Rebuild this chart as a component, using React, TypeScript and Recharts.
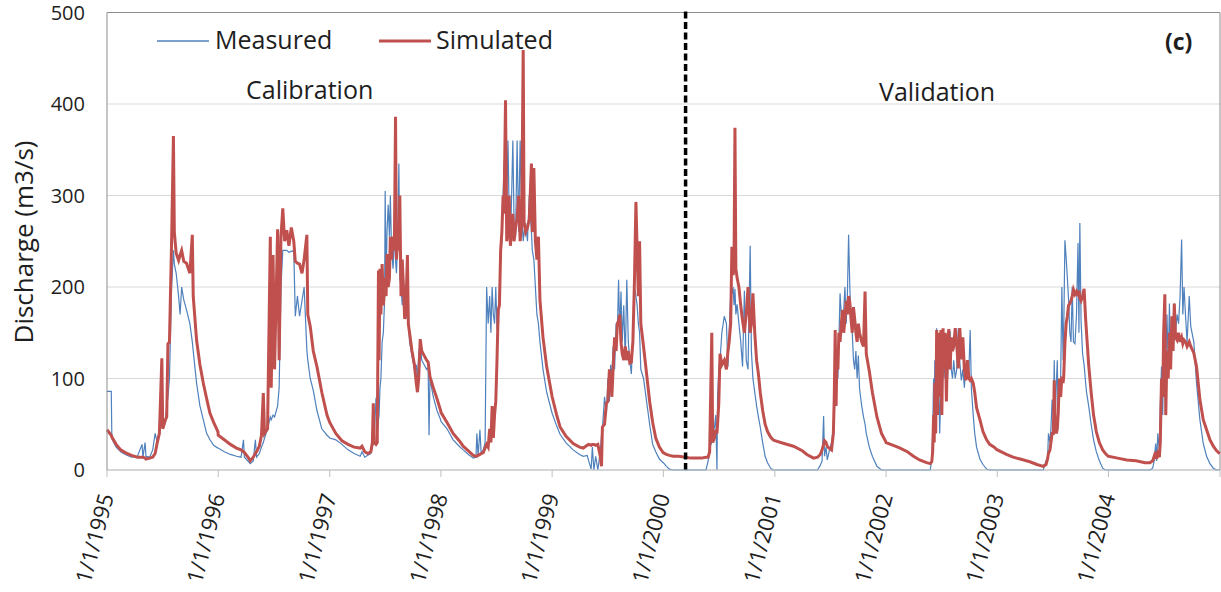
import React from "react"
import { LineChart, Line, XAxis, YAxis, CartesianGrid, ReferenceLine } from "recharts"

// rows: [day of year, measured, simulated] in m3/s
const y1995 = [
	[0, 86, 44], [14, 86, 38], [16, 34, 36], [30, 25, 28], [45, 20, 22], [60, 17, 19], [80, 14, 16],
	[100, 15, 14], [115, 28, 14], [118, 14, 14], [125, 30, 13], [128, 15, 12], [140, 14, 13],
	[150, 22, 14], [158, 40, 18], [165, 30, 30], [172, 45, 40], [180, 50, 122], [183, 48, 45],
	[192, 55, 55], [196, 70, 58], [200, 80, 138], [205, 100, 140], [212, 200, 250], [218, 240, 365],
	[221, 225, 260], [227, 215, 237], [235, 190, 229], [240, 170, 235], [245, 200, 240],
	[252, 186, 228], [261, 175, 226], [272, 160, 215], [280, 140, 257], [283, 130, 190],
	[294, 95, 142], [305, 70, 115], [316, 55, 95], [327, 40, 78], [338, 33, 62], [350, 27, 52],
	[364, 24, 42],
]
const y1996 = [
	[0, 24, 38], [20, 20, 33], [40, 17, 28], [60, 15, 24], [75, 14, 22], [83, 33, 20], [86, 14, 19],
	[100, 9, 13], [105, 7, 10], [115, 10, 14], [122, 33, 18], [126, 14, 20], [135, 18, 26],
	[142, 25, 38], [148, 30, 84], [152, 35, 40], [162, 45, 45], [171, 58, 255], [174, 55, 90],
	[180, 60, 235], [185, 58, 110], [195, 70, 263], [200, 90, 120], [206, 200, 255], [212, 240, 286],
	[218, 240, 250], [225, 240, 262], [232, 238, 245], [240, 239, 265], [248, 240, 250],
	[253, 168, 228], [260, 190, 226], [267, 168, 225], [275, 185, 215], [282, 200, 230],
	[291, 131, 257], [294, 120, 170], [302, 100, 157], [312, 87, 130], [324, 65, 113],
	[340, 45, 85], [357, 38, 60],
]
const y1997 = [
	[0, 35, 52], [20, 33, 40], [40, 28, 32], [60, 22, 28], [80, 18, 25], [100, 15, 24], [106, 20, 26],
	[115, 14, 20], [125, 16, 18], [135, 18, 20], [140, 25, 30], [143, 30, 73], [146, 35, 30],
	[152, 79, 28], [156, 40, 30], [160, 55, 218], [162, 60, 120], [165, 90, 220], [168, 100, 170],
	[172, 140, 225], [176, 150, 180], [180, 185, 200], [182, 305, 210], [185, 200, 190],
	[188, 260, 236], [192, 290, 200], [196, 255, 210], [199, 300, 255], [203, 240, 230],
	[208, 220, 255], [212, 260, 240], [216, 230, 386], [219, 215, 230], [223, 250, 250],
	[227, 335, 240], [230, 210, 300], [234, 200, 190], [238, 180, 230], [242, 210, 200],
	[246, 170, 165], [250, 165, 175], [255, 185, 235], [258, 170, 160], [262, 140, 150],
	[270, 125, 130], [278, 110, 115], [284, 115, 95], [288, 100, 85], [292, 125, 100],
	[297, 140, 143], [302, 120, 130], [310, 115, 125], [318, 110, 120], [323, 112, 118],
	[326, 38, 110], [329, 100, 102], [340, 80, 90], [352, 65, 78], [364, 55, 65],
]
const y1998 = [
	[0, 53, 63], [20, 45, 52], [40, 33, 40], [60, 26, 32], [73, 22, 26], [90, 17, 21], [106, 13, 16],
	[115, 14, 15], [118, 40, 15], [122, 15, 16], [128, 44, 17], [132, 18, 18], [139, 22, 19],
	[145, 30, 24], [150, 200, 28], [155, 160, 25], [160, 190, 45], [164, 150, 30], [168, 200, 70],
	[172, 170, 35], [176, 160, 60], [180, 200, 75], [184, 155, 120], [188, 150, 175],
	[192, 200, 180], [196, 230, 240], [200, 250, 260], [204, 300, 300], [207, 330, 280],
	[212, 360, 404], [216, 300, 250], [220, 360, 260], [224, 280, 300], [228, 250, 245],
	[232, 300, 263], [236, 360, 280], [240, 270, 250], [245, 255, 265], [250, 360, 275],
	[255, 260, 300], [260, 360, 250], [265, 280, 270], [270, 250, 459], [273, 260, 270],
	[278, 270, 260], [284, 250, 265], [290, 300, 274], [297, 260, 335], [300, 240, 260],
	[305, 230, 330], [310, 200, 250], [315, 170, 230], [320, 160, 255], [325, 140, 186],
	[335, 110, 145], [347, 85, 113],
]
const y1999 = [
	[0, 62, 80], [15, 48, 60], [26, 39, 47], [45, 30, 37], [69, 22, 29], [90, 17, 25], [102, 15, 24],
	[115, 16, 27], [120, 10, 28], [128, 1, 27], [132, 25, 28], [137, 0, 28], [143, 15, 27],
	[150, 0, 28], [158, 20, 15], [162, 38, 4], [165, 45, 47], [172, 80, 50], [178, 60, 73],
	[183, 100, 75], [188, 75, 110], [192, 115, 100], [196, 100, 80], [200, 135, 110],
	[205, 110, 145], [210, 160, 130], [214, 150, 160], [218, 208, 163], [222, 150, 170],
	[226, 195, 140], [230, 140, 127], [235, 180, 120], [240, 120, 135], [245, 208, 120],
	[250, 140, 130], [255, 120, 117], [260, 105, 118], [265, 150, 140], [270, 200, 204],
	[275, 190, 293], [279, 180, 240], [283, 160, 190], [287, 150, 250], [291, 110, 160],
	[300, 100, 135], [310, 75, 105], [320, 50, 75], [330, 28, 52], [340, 20, 35], [352, 12, 25],
	[364, 8, 19],
]
const y2000 = [
	[0, 8, 19], [10, 4, 17], [20, 1, 16], [32, 0, 15], [50, 0, 15], [73, 0, 14], [90, 0, 13],
	[110, 0, 13], [125, 0, 13], [140, 0, 14], [147, 10, 14], [152, 25, 20], [159, 30, 150],
	[162, 40, 30], [168, 47, 35], [172, 60, 44], [176, 0, 40], [178, 80, 50], [182, 110, 73],
	[186, 120, 127], [192, 150, 115], [200, 168, 120], [207, 160, 110], [212, 113, 130],
	[216, 150, 140], [221, 190, 160], [225, 193, 244], [229, 200, 213], [232, 180, 230],
	[235, 198, 374], [238, 170, 220], [242, 181, 210], [248, 160, 200], [254, 140, 180],
	[260, 113, 163], [266, 196, 150], [272, 120, 170], [278, 110, 200], [285, 245, 150],
	[289, 130, 160], [294, 100, 193], [300, 85, 150], [306, 70, 120], [312, 58, 105],
	[318, 47, 85], [326, 30, 65], [334, 15, 50], [342, 8, 42], [352, 2, 36], [360, 0, 33],
]
const y2001 = [
	[0, 0, 32], [30, 0, 29], [61, 0, 26], [90, 0, 21], [105, 0, 17], [127, 0, 13], [140, 0, 14],
	[149, 5, 17], [155, 10, 22], [160, 59, 28], [163, 15, 32], [168, 25, 30], [172, 11, 26],
	[178, 20, 24], [186, 30, 22], [192, 45, 40], [195, 60, 80], [198, 95, 153], [201, 110, 70],
	[204, 120, 130], [207, 100, 110], [210, 140, 150], [214, 193, 140], [218, 170, 160],
	[222, 160, 175], [226, 175, 150], [230, 200, 165], [234, 160, 185], [238, 190, 170],
	[242, 257, 190], [246, 200, 183], [250, 160, 165], [254, 150, 150], [258, 120, 178],
	[262, 110, 165], [266, 130, 150], [270, 100, 140], [274, 125, 160], [278, 89, 150],
	[285, 70, 140], [291, 58, 135], [296, 50, 195], [300, 40, 127], [310, 25, 108],
	[320, 15, 85], [335, 4, 58], [350, 0, 40], [364, 0, 31],
]
const y2002 = [
	[0, 0, 30], [30, 0, 26], [46, 0, 24], [70, 0, 20], [90, 0, 15], [110, 0, 11], [133, 0, 8],
	[145, 0, 7], [150, 11, 9], [153, 40, 20], [156, 100, 60], [158, 60, 30], [160, 120, 95],
	[163, 59, 40], [166, 155, 153], [169, 80, 60], [172, 120, 150], [176, 40, 80], [180, 89, 153],
	[183, 120, 60], [187, 150, 155], [190, 100, 110], [194, 120, 150], [198, 89, 75],
	[202, 100, 140], [206, 130, 154], [210, 152, 110], [214, 110, 145], [218, 100, 130],
	[222, 120, 135], [227, 100, 155], [232, 110, 137], [237, 155, 111], [242, 118, 155],
	[247, 98, 121], [252, 110, 145], [257, 90, 110], [262, 115, 98], [267, 100, 120],
	[272, 110, 100], [276, 153, 98], [280, 89, 100], [286, 60, 95], [291, 40, 85], [297, 25, 68],
	[308, 12, 55], [318, 6, 42], [330, 1, 33], [340, 0, 28], [355, 0, 25], [364, 0, 22],
]
const y2003 = [
	[0, 0, 22], [30, 0, 17], [52, 0, 14], [75, 0, 12], [107, 0, 9], [130, 0, 6], [151, 0, 4],
	[160, 10, 6], [165, 12, 12], [168, 40, 18], [173, 30, 22], [176, 45, 30], [180, 77, 40],
	[184, 60, 40], [187, 120, 98], [190, 55, 47], [194, 95, 40], [197, 120, 45], [200, 50, 62],
	[204, 95, 100], [208, 100, 80], [212, 200, 102], [216, 120, 95], [218, 150, 102],
	[222, 251, 138], [226, 232, 160], [230, 210, 168], [234, 186, 180], [238, 150, 182],
	[242, 140, 185], [246, 200, 190], [250, 140, 197], [255, 138, 192], [260, 170, 195],
	[265, 248, 190], [268, 150, 196], [271, 270, 188], [275, 163, 185], [280, 127, 190],
	[285, 115, 198], [290, 95, 165], [293, 85, 150], [300, 70, 115], [308, 50, 85], [316, 33, 60],
	[325, 20, 42], [335, 10, 30], [346, 2, 22], [355, 0, 18], [364, 0, 15],
]
const y2004 = [
	[0, 0, 15], [30, 0, 13], [60, 0, 11], [90, 0, 10], [120, 0, 8], [136, 0, 8], [145, 2, 10],
	[150, 10, 15], [155, 29, 20], [158, 10, 12], [162, 40, 18], [167, 20, 14], [170, 70, 30],
	[174, 113, 100], [178, 60, 80], [181, 130, 150], [185, 100, 192], [188, 120, 60],
	[192, 170, 130], [196, 110, 100], [200, 182, 150], [204, 120, 110], [208, 160, 168],
	[212, 140, 130], [216, 182, 182], [220, 150, 145], [225, 170, 142], [230, 160, 150],
	[235, 190, 140], [240, 252, 145], [244, 170, 138], [248, 200, 142], [253, 168, 140],
	[258, 140, 135], [265, 190, 140], [270, 157, 135], [280, 140, 128], [289, 95, 113],
	[300, 55, 77], [311, 29, 55], [322, 15, 44], [333, 7, 33], [344, 2, 26], [355, 0, 21],
	[365, 0, 18],
]

const years = [y1995, y1996, y1997, y1998, y1999, y2000, y2001, y2002, y2003, y2004]
// day index of 1 January for 1995..2005
const yearStarts = [0, 365, 731, 1096, 1461, 1826, 2192, 2557, 2922, 3287, 3653]
const yearLabels = ["1/1/1995", "1/1/1996", "1/1/1997", "1/1/1998", "1/1/1999",
	"1/1/2000", "1/1/2001", "1/1/2002", "1/1/2003", "1/1/2004", ""]
const yTicks = [0, 100, 200, 300, 400, 500]
const splitDay = 1899 // start of validation period

const data = years.flatMap((rows, i) =>
	rows.map(([d, m, s]) => ({ day: yearStarts[i] + d, measured: m, simulated: s }))
)

const FONT = "'Open Sans', sans-serif"
const TEXT = "#1e1e1e"
const BLUE = "#4f81bd"
const RED = "#c0504d"

const YearTick = (props: any) => {
	const { x, y, payload } = props
	const idx = yearStarts.indexOf(payload.value)
	const label = idx >= 0 ? yearLabels[idx] : ""
	const tx = x + 7
	const ty = y + 17
	return (
		<text
			x={tx}
			y={ty}
			transform={`rotate(-75 ${tx} ${ty})`}
			textAnchor="end"
			fontSize={22}
			fontFamily={FONT}
			fill={TEXT}
		>
			{label}
		</text>
	)
}

const App = () => (
	<div style={{ position: "absolute", left: 0, top: 0, width: 1221, height: 592, background: "#fff" }}>
		<LineChart width={1221} height={592} data={data} margin={{ top: 12.5, right: 1, bottom: 0, left: 0 }}>
			<CartesianGrid horizontal vertical={false} stroke="#d9d9d9" />
			<XAxis
				dataKey="day"
				type="number"
				domain={[0, 3653]}
				ticks={yearStarts}
				interval={0}
				height={122}
				tick={<YearTick />}
				tickSize={7}
				tickMargin={2}
				axisLine={{ stroke: "#bfbfbf" }}
				tickLine={{ stroke: "#bfbfbf" }}
			/>
			<YAxis
				type="number"
				domain={[0, 500]}
				ticks={yTicks}
				width={107}
				tickLine={false}
				tickMargin={16}
				axisLine={{ stroke: "#8c8c8c" }}
				tick={{ fontSize: 20, fontFamily: FONT, fill: TEXT }}
			/>
			<ReferenceLine y={500} stroke="#8c8c8c" />
			<ReferenceLine x={3653} stroke="#8c8c8c" />
			<Line
				dataKey="measured"
				type="linear"
				stroke={BLUE}
				strokeWidth={1.2}
				dot={false}
				isAnimationActive={false}
			/>
			<Line
				dataKey="simulated"
				type="linear"
				stroke={RED}
				strokeWidth={3}
				dot={false}
				isAnimationActive={false}
			/>
			<ReferenceLine
				segment={[{ x: splitDay, y: 0 }, { x: splitDay, y: 503 }]}
				ifOverflow="visible"
				stroke="#000"
				strokeWidth={3.5}
				strokeDasharray="7 3.5"
			/>
		</LineChart>
		<svg
			width={1221}
			height={592}
			style={{ position: "absolute", left: 0, top: 0, pointerEvents: "none" }}
			fontFamily={FONT}
			fill={TEXT}
		>
			<line x1={157} y1={41} x2={209} y2={41} stroke={BLUE} strokeWidth={1.5} />
			<text x={215} y={49} fontSize={25}>Measured</text>
			<line x1={379} y1={41} x2={431} y2={41} stroke={RED} strokeWidth={3} />
			<text x={436} y={49} fontSize={25}>Simulated</text>
			<text x={246} y={99} fontSize={25}>Calibration</text>
			<text x={879} y={101} fontSize={25}>Validation</text>
			<text x={1165} y={50} fontSize={23} fontWeight="bold">(c)</text>
			<text x={33} y={242} fontSize={26} textAnchor="middle" transform="rotate(-90 33 242)">
				Discharge (m3/s)
			</text>
		</svg>
	</div>
)

export default App
